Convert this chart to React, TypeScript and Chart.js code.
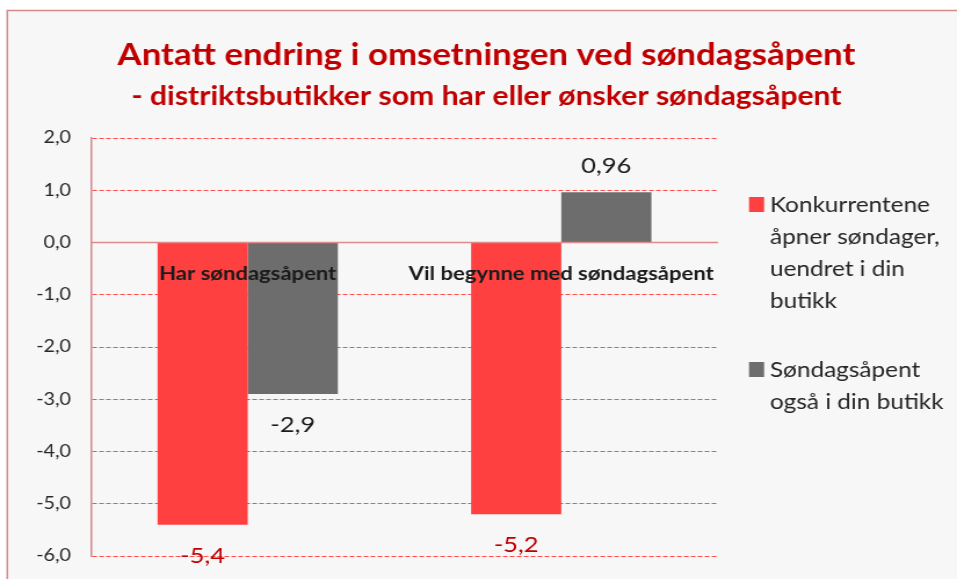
import React, { useEffect, useRef } from "react";
import { Chart, registerables } from "chart.js";

Chart.register(...registerables);

// ---- data ----
const categories = ["Har søndagsåpent", "Vil begynne med søndagsåpent"];
const competitorsOpenValues = [-5.4, -5.2];
const ownStoreOpenValues = [-2.9, 0.96];
const competitorsLegend = ["Konkurrentene", "åpner søndager,", "uendret i din", "butikk"];
const ownStoreLegend = ["Søndagsåpent", "også i din butikk"];
const titleText = "Antatt endring i omsetningen ved søndagsåpent";
const subtitleText = "- distriktsbutikker som har eller ønsker søndagsåpent";
const yMin = -6;
const yMax = 2;
const yStep = 1;

// ---- style ----
const W = 957;
const H = 579;
const SX = 1.16; // the reference is horizontally stretched
const CW = Math.round(W / SX);
const RED = "#ff4040";
const GRAY = "#6d6d6d";
const DARK_RED = "#c00000";
const FONT = "Lato, 'Open Sans', sans-serif";

const fmt = (v: number) => String(v).replace(".", ",");

const decorPlugin = {
  id: "decor",
  beforeDraw(chart: any) {
    const { ctx, width, height } = chart;
    ctx.save();
    ctx.fillStyle = "#ffffff";
    ctx.fillRect(0, 0, width, height);
    ctx.fillStyle = "#f7f7f7";
    ctx.fillRect(6, 10, width, height);
    ctx.strokeStyle = "#d48a8a";
    ctx.lineWidth = 1.5;
    ctx.beginPath();
    ctx.moveTo(6.3, height + 5);
    ctx.lineTo(6.3, 10.5);
    ctx.lineTo(width + 5, 10.5);
    ctx.stroke();
    ctx.restore();
  },
  afterDatasetsDraw(chart: any) {
    const { ctx, chartArea, scales } = chart;
    const y = scales.y;
    const x = scales.x;
    const zeroY = y.getPixelForValue(0);
    ctx.save();
    // zero line
    ctx.strokeStyle = "#e08a8a";
    ctx.lineWidth = 1.5;
    ctx.beginPath();
    ctx.moveTo(chartArea.left, zeroY);
    ctx.lineTo(chartArea.right, zeroY);
    ctx.stroke();

    // category labels
    ctx.fillStyle = "#1a1a1a";
    ctx.font = `bold 19px ${FONT}`;
    ctx.textAlign = "center";
    ctx.textBaseline = "middle";
    categories.forEach((c, i) => {
      ctx.fillText(c, x.getPixelForValue(i), zeroY + 31);
    });

    // data labels
    ctx.font = `22px ${FONT}`;
    chart.data.datasets.forEach((ds: any, di: number) => {
      const meta = chart.getDatasetMeta(di);
      ctx.fillStyle = di === 0 ? DARK_RED : "#1a1a1a";
      meta.data.forEach((el: any, i: number) => {
        const v = ds.data[i];
        const ly = v < 0 ? el.y + 31 : el.y - 26;
        ctx.fillText(fmt(v), el.x, ly);
      });
    });

    // legend
    const lx = chartArea.right + 26.7;
    const items = [
      { color: RED, lines: competitorsLegend, top: 197 },
      { color: GRAY, lines: ownStoreLegend, top: 362 },
    ];
    ctx.font = `21px ${FONT}`;
    ctx.textAlign = "left";
    ctx.textBaseline = "middle";
    items.forEach((it) => {
      ctx.fillStyle = it.color;
      ctx.fillRect(lx, it.top, 13, 15);
      ctx.fillStyle = "#262626";
      it.lines.forEach((ln, k) => {
        ctx.fillText(ln, lx + 18, it.top + 8 + k * 32);
      });
    });
    ctx.restore();
  },
};

export default function App() {
  const ref = useRef<HTMLCanvasElement | null>(null);
  useEffect(() => {
    if (!ref.current) return;
    const chart = new Chart(ref.current, {
      type: "bar",
      data: {
        labels: categories,
        datasets: [
          {
            label: competitorsLegend.join(" "),
            data: competitorsOpenValues,
            backgroundColor: RED,
            categoryPercentage: 0.575,
            barPercentage: 1,
          },
          {
            label: ownStoreLegend.join(" "),
            data: ownStoreOpenValues,
            backgroundColor: GRAY,
            categoryPercentage: 0.575,
            barPercentage: 1,
          },
        ],
      },
      options: {
        animation: false,
        responsive: false,
        maintainAspectRatio: false,
        devicePixelRatio: 1,
        layout: { padding: { left: 13.8, right: 0, top: 0, bottom: 23 } },
        plugins: {
          legend: { display: false },
          tooltip: { enabled: false },
          title: {
            display: true,
            text: titleText,
            color: DARK_RED,
            font: { family: FONT, size: 30, weight: "bold", lineHeight: 1.2 },
            padding: { top: 37, bottom: 0 },
          },
          subtitle: {
            display: true,
            text: subtitleText,
            color: DARK_RED,
            font: { family: FONT, size: 26, weight: "bold", lineHeight: 1.2 },
            padding: { top: 8.4, bottom: 25.4 },
          },
        },
        scales: {
          x: { display: false },
          y: {
            min: yMin,
            max: yMax,
            afterFit: (s: any) => {
              s.width = 64.6;
              s.paddingTop = 0;
              s.paddingBottom = 0;
            },
            ticks: {
              stepSize: yStep,
              padding: 17.2,
              color: "#262626",
              font: { family: FONT, size: 17 },
              callback: (v: any) => Number(v).toFixed(1).replace(".", ","),
            },
            grid: {
              color: "#ff4d4d",
              lineWidth: 1,
              drawTicks: false,
            },
            border: { display: true, color: "#d48a8a", width: 1.5, dash: [4, 2] },
          },
          yLegendSpace: {
            position: "right",
            display: true,
            grid: { display: false, drawTicks: false },
            border: { display: false },
            ticks: { display: false },
            afterFit: (s: any) => {
              s.width = CW - 619;
            },
          },
        },
      },
      plugins: [decorPlugin],
    } as any);
    return () => chart.destroy();
  }, []);
  return (
    <div style={{ position: "fixed", left: 0, top: 0, width: W, height: H }}>
      <canvas
        ref={ref}
        width={CW}
        height={H}
        style={{ width: W, height: H, display: "block" }}
      />
    </div>
  );
}
